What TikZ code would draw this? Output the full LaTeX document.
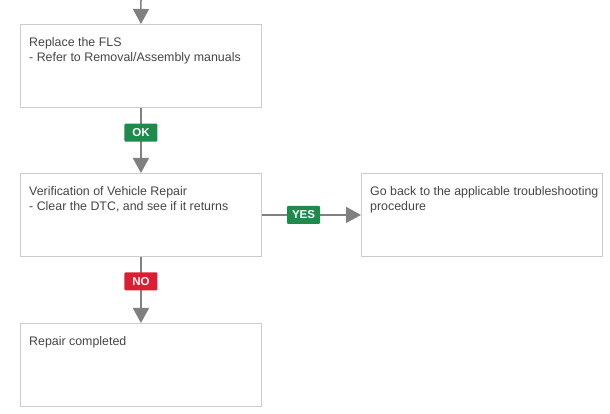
\documentclass[tikz,border=0pt]{standalone}
\usepackage{fontspec}
\setmainfont{Liberation Sans}
\usetikzlibrary{arrows.meta}
\definecolor{boxline}{HTML}{CCCCCC}
\definecolor{txt}{HTML}{444444}
\definecolor{arr}{HTML}{808080}
\definecolor{okgreen}{HTML}{1E8A4C}
\definecolor{nored}{HTML}{DD1E32}
\begin{document}
\begin{tikzpicture}[x=1pt,y=1pt,
  box/.style={draw=boxline,line width=0.9pt,minimum width=241pt,minimum height=83pt,inner sep=0pt,anchor=north west},
  boxtext/.style={anchor=north west,text=txt,font=\fontsize{12.4}{15}\selectfont,align=left,inner sep=0pt},
  flow/.style={draw=arr,line width=1.5pt,-{Triangle[length=15pt,width=16pt]}},
  tag/.style={fill=#1,text=white,font=\bfseries\fontsize{11.5}{11.5}\selectfont,minimum width=33pt,minimum height=18pt,inner sep=0pt,rounded corners=1pt},
]
\useasboundingbox (0,0) rectangle (610,414);
\node[box] (b1) at (20,390) {};
\node[box] (b2) at (20,241) {};
\node[box] (b3) at (361,241) {};
\node[box] (b4) at (20,91) {};
\node[boxtext] (t1) at (29,377) {Replace the FLS\\- Refer to Removal/Assembly manuals};
\node[boxtext] (t2) at (29,228) {Verification of Vehicle Repair\\- Clear the DTC, and see if it returns};
\node[boxtext] (t3) at (370,228) {Go back to the applicable troubleshooting\\procedure};
\node[boxtext] (t4) at (29,78) {Repair completed};
\coordinate (top) at (141,414);
\draw[flow] (top) -- (b1.north);
\draw[flow] (b1.south) -- node[pos=0.38,tag=okgreen] (ok) {OK} (b2.north);
\draw[flow] (b2.east) -- node[pos=0.42,tag=okgreen] (yes) {YES} (b3.west);
\draw[flow] (b2.south) -- node[pos=0.37,tag=nored] (no) {NO} (b4.north);
\end{tikzpicture}
\end{document}
